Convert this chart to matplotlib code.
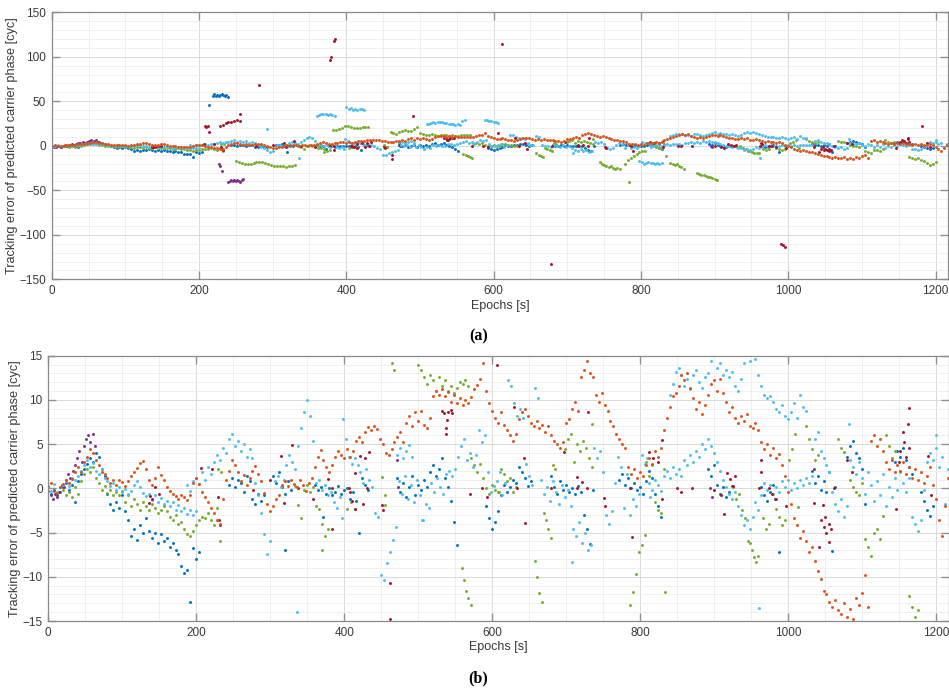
import numpy as np
import matplotlib
matplotlib.use("Agg")
import matplotlib.pyplot as plt
from matplotlib.ticker import MultipleLocator

plt.rcParams["font.family"] = ["Liberation Sans", "DejaVu Sans"]

# matlab default colour order
c_blue = "#0072BD"
c_orange = "#D95319"
c_purple = "#7E2F8E"
c_green = "#77AC30"
c_lblue = "#4DBEEE"
c_dred = "#A2142F"

# tracks: (first epoch [s], step [s], tracking error values [cyc])
orange_tracks = [
    (0, 4, [0.3, 0.6, -0.3, -0.5, 0.2, 0.5, 0.9, 0.6, 1.1, 1.8,
            2.4, 1.9, 3.0, 3.6, 4.4, 4.0, 3.2, 2.6, 1.9, 1.6,
            1.2, 0.6, 1.0, 0.4, 0.9, 0.7, 0.3, 0.8, 1.4, 1.9,
            2.3, 2.9, 3.1, 2.2, 1.0, 0.4, 1.2, 2.4, 1.5, 0.9,
            0.2, -0.3, -0.6, -0.9, -1.2, -0.8, -1.0, -1.3, -0.7, 0.6,
            1.2, 0.5, -0.4, -1.0, -1.6, -2.2, -2.8, -3.6, -4.0, -1.2,
            1.0, 2.0, 3.2, 2.6, 1.8, 0.8, 1.5, 0.4, 1.2, 2.0,
            2.5, 1.6, 0.8, -0.5, -1.8, -2.6, -2.0, -1.2, -0.8, 0.4,
            0.8, 0.3, 1.0, 0.5, 0.2, 0.9, 0.4, -0.3, 0.6, 1.2,
            2.4, 3.6, 4.3, 3.2, 2.4, 1.9, 2.6, 3.5, 4.2, 3.8,
            3.4, 4.5, 3.6, 4.2, 5.4, 5.8, 5.2, 6.4, 6.9, 6.6,
            7.0, 6.7, 5.6, 5.0, 4.0, 3.8, 4.4, 5.2, 5.8, 6.4,
            5.2, 7.4, 8.2, 7.0, 8.6, 7.6, 8.8, 7.2, 6.8, 8.0,
            10.4, 11.0, 10.6, 11.2, 10.4, 10.9, 9.8, 10.5, 9.6, 10.2,
            9.4, 10.0, 9.6, 10.3, 11.2, 11.7, 12.4, 14.2, 11.0, 9.6,
            8.8, 8.0, 7.4, 8.6, 7.2, 6.6, 6.0, 5.4, 6.2, 7.8,
            8.6, 9.0, 8.2, 7.4, 7.0, 7.6, 6.8, 7.2, 6.4, 7.0,
            6.0, 5.4, 5.0, 4.6, 5.2, 7.4, 7.8, 9.0, 9.8, 8.8,
            12.6, 13.4, 14.4, 13.0, 12.6, 10.6, 9.8, 10.8, 9.4, 8.8,
            7.6, 7.0, 6.2, 5.6, 5.0, 4.6, 2.4, 1.6, 2.2, 1.2,
            1.8, 1.4, 2.6, 3.4, 2.8, 4.2, 3.6, 4.6, 6.6, 8.0,
            9.2, 10.4, 10.8, 11.6, 12.8, 12.2, 13.0, 11.4, 10.2, 9.0,
            9.8, 8.4, 9.4, 10.6, 11.8, 12.2, 11.0, 12.4, 10.8, 9.8,
            8.6, 9.2, 8.0, 7.4, 8.2, 7.6, 8.4, 7.0, 6.8, 7.4,
            6.6, 5.2, 4.4, 5.0, 3.8, 4.6, 3.4, 3.9, 2.6, 1.4,
            -0.4, -1.8, -3.4, -4.2, -5.6, -4.8, -6.0, -7.2, -6.6, -8.2,
            -9.4, -10.2, -11.6, -12.0, -12.8, -13.4, -12.6, -13.8, -14.2, -13.0,
            -14.6, -13.6, -14.8, -12.4, -13.2, -11.8, -9.8, -13.4]),
    (1112, 4, [5.4, 6.0, 4.8, 5.6, 4.2, 3.0, 2.2, 3.2, 1.8, 2.6,
               2.0, 3.0, 1.6, 2.4, 1.2, 2.2, 1.0, 1.8, 0.6, 1.4,
               2.4, 0.4, -1.2, -3.6, -5.4, -2.0, 1.2]),
]
orange_x = []
orange_y = []

lblue_tracks = [
    (0, 4, [0.2, -0.3, 0.5, -0.4, 0.1, 0.4, 0.8, 0.3, 1.2, 0.9,
            1.4, 2.0, 2.6, 3.2, 2.4, 2.9, 2.0, 1.6, 2.2, 1.2,
            0.8, 0.3, 0.6, -0.2, 0.2, -0.4, -0.1, -0.6, -0.3, 0.4,
            0.8, 0.2, -0.5, -0.9, -0.6, -1.3, -0.8, -1.5, -1.1, -1.8,
            -1.4, -2.0, -1.6, -2.4, -1.9, -2.6, -2.2, -2.9, -2.4, -3.0, -2.6]),
    (188, 4, [0.4, -0.3, 0.8, 1.2, 0.5, 1.8, 1.0, 2.4, 1.6, 3.0,
              3.8, 3.2, 4.6, 4.0, 5.6, 6.2, 4.8, 5.4, 4.2, 5.0,
              3.6, 4.4, 3.4, 0.6, -0.8, -2.8, -5.2, -7.4, -6.0]),
    (306, 4, [0.8, 1.4, 0.2, 1.0, 2.6, 3.8, 3.0, 2.2, 4.8, 6.8,
              8.6, 10.0, 8.2, 5.4, 0.6, 1.0, -0.2, 0.4, -0.8, -0.4,
              -1.6, -2.2, -1.0, 7.8, 5.6, 3.6, 2.8]),
    (414, 4, [3.4, 2.6, 1.8, 0.6, 2.2, 1.0, 0.2, -2.8, -3.2, -9.8,
              -10.4, -8.4, -7.2, -5.8, -4.4, 0.8, -0.6, 1.4, -1.2, 0.4,
              -1.6, 1.0, -0.8, -3.6, -1.8, -2.2, 0.6, -0.4, 1.2, 0.2,
              -0.6, 1.6, 2.0, 1.4, 2.2, 3.6, 4.8, 5.6, 3.2, 4.0,
              2.4, 3.8, 6.6, 5.2, 6.0, 1.8, -0.4, 0.3, 0.8]),
    (472, 4, [3.8, 4.6, 3.4, 4.2, 4.9, 3.6]),
    (610, 4, [1.8, -0.8, 0.6, 12.2, 11.6, 9.6, 8.2, 9.0, 8.0, 2.8,
              1.4, 0.4, 11.4, 10.2, 1.0, -0.6, 0.2, -1.4, 0.8, -0.4,
              -1.8, 0.4, -1.0, -0.2, -2.0, -4.6, -5.4, -3.8, -6.2, -5.0,
              -7.0, -6.4, 4.6, 3.4, 4.2, 1.8, -3.0, -4.0, -2.6, 0.6,
              3.6, 2.4, -2.2, 1.6, -3.0, -1.2, -2.0, -0.6, 3.8, 2.8,
              3.4, -1.0]),
    (840, 4, [10.6, 11.8, 13.2, 13.6, 12.8, 11.6, 12.4, 11.2, 12.8, 13.4,
              12.0, 11.4, 12.6, 13.0, 14.4, 15.4, 13.6, 14.2, 12.8, 13.4,
              12.6, 13.2, 11.6, 11.0, 12.4, 14.2, 15.6, 14.4, 15.2, 14.6,
              12.8, 11.6, 10.6, 10.2, 10.4, 9.8, 9.0, 8.6, 9.4, 8.2,
              7.8, 8.6, 9.6, 8.0, 10.6, 9.2, 8.8]),
    (812, 4, [0.6, -0.2, 1.0, 0.4, -0.3, 1.4, 2.0, 1.2, 2.4, 1.6,
              2.2, 1.4, 3.2, 2.6, 3.8, 3.0, 4.2, 3.6, 5.0, 4.4,
              5.6, 4.8, 4.0, 3.0, 2.0, 1.0, 0.2, -0.6, -1.2, -0.4,
              -2.0, -3.0, -4.2, -3.6, -4.6, -3.2, -1.6, -2.4, -0.8, 0.6,
              -0.2, 0.4, -0.6, 0.2, -0.4, 0.8, 0.2, 1.0, -0.2, 0.6,
              0.0, 0.9, 0.4, 1.2, 0.6, 1.4, 5.6, 6.4, 4.2, 3.4,
              2.6, 1.8, -0.4, -1.8, -2.6, -1.2, -3.2, -2.0, 3.2, 2.4,
              1.6, 3.0, 1.2, -0.6, 1.8, 0.4, -1.4, 0.8, -0.8, 1.6,
              -2.0, 0.2, -1.0, 1.2, -0.2, 1.8, 0.6, -0.4, 1.2, -3.2,
              -4.0, -4.8, -3.6, -0.2, 3.0, 4.0, 3.2, 4.6, 2.4, 3.6,
              -1.8, 2.2]),
    (360, 3, [33.5, 34.8, 35.6, 36.0, 35.2, 34.6, 35.4, 34.2, 33.8]),
    (400, 3, [43.2, 41.8, 42.4, 40.6, 41.2, 40.2, 40.8, 41.6, 40.4]),
    (509, 3, [24.2, 25.0, 25.6, 26.2, 25.8, 26.6, 27.0, 26.4, 25.8, 25.2,
              24.6, 25.0, 24.4, 23.6, 24.0, 23.2]),
    (588, 3, [29.4, 28.8, 28.2, 27.6, 27.0, 26.2, 25.4]),
    (798, 3, [-16.8, -18.6, -20.4, -19.2, -18.0, -18.8, -19.6, -20.8, -19.4, -20.6, -19.2]),
]
lblue_x = [292, 336, 557, 561, 397, 505, 708, 961, 1083, 1200]
lblue_y = [18.5, -14.0, 28.0, 28.6, -3.4, -3.6, -8.3, -13.5, 7.3, 6.0]

blue_tracks = [
    (0, 4, [-0.3, -0.6, -0.2, -0.8, -0.4, 0.2, 0.6, -0.2, 0.4, -1.6,
            0.8, 1.6, 2.2, 2.8, 3.4, 3.0, 4.0, 3.6, 2.2, 1.4,
            -0.6, -1.8, -2.4, -1.6, -2.2, -0.8, -2.6, -3.6, -5.4, -4.6,
            -5.8, -4.2, -5.0, -3.4, -4.8, -5.6, -5.0, -6.2, -5.2, -6.0,
            -5.6, -6.6, -6.2, -7.0, -7.4, -8.8, -9.6, -9.2, -12.8, -6.8, -8.0, -7.2]),
    (219, 2, [56.4, 57.8, 55.8, 57.2, 56.0, 57.6, 58.2, 56.6, 55.4, 56.8, 54.6]),
    (244, 4, [0.4, 1.2, 0.2, 1.0, 0.6, -0.4, 1.4, 0.8, -1.2, -1.8, -0.6, -1.4, -0.8]),
    (304, 4, [1.4, 0.6, 1.8, 0.2, -0.6, 0.8, -0.2]),
    (360, 4, [0.4, -0.2, 0.2, -3.2, -0.6, 0.0, -0.8, -0.4, 0.3, -0.6,
              -0.2, 0.0, -1.2, -0.4, -1.4, -5.1, 1.2, 0.4, -0.2]),
    (472, 4, [1.2, -0.4, 0.6, -1.0, 0.2, 1.4, -0.8, 0.4, -0.2, 1.0,
              0.2, 1.8, 2.6, 1.4, 2.2, 3.4, 1.2, 0.2, -1.4, -3.8, -6.4]),
    (592, 4, [-2.0, -3.4, -4.6, -3.8, -2.6, -0.8, 0.4, -0.4, 0.2, 1.0,
              0.6, 2.4, 1.8, 1.2, 0.3, 0.8]),
    (680, 4, [1.4, 0.2, -0.6, 0.8, -0.2, 0.4, -0.4, 0.0, -0.6, 0.3,
              -0.4, -3.0, -4.6, -6.3, -0.2]),
    (772, 4, [1.0, 1.6, 0.4, 1.2, 0.0, 0.6, -0.2, 0.2, -0.6, 0.8,
              2.0, 1.2, -0.6, -2.0, -3.2]),
    (892, 4, [2.2, 1.4, 2.6, 0.4, -0.6, 0.2, -1.0, -0.4, 0.3]),
    (964, 4, [0.2, -0.8, -1.4, -0.4, 0.4, -1.2, -7.2]),
    (1032, 4, [2.0, 0.6, 1.4, -0.2, 0.8, -0.4, 1.8, -7.1, 0.2]),
    (1080, 4, [3.6, 4.8, 5.4, 4.0, 3.4, 2.2, -1.8]),
    (1144, 4, [3.0, 4.2, 3.6, 4.6, 3.2, 2.4, 1.6]),
    (1180, 4, [-0.4, -1.4, -2.4, -3.1, -2.0]),
]
blue_x = [214, 320]
blue_y = [45.5, -7.0]

green_tracks = [
    (20, 4, [-0.2, -0.8, -0.4, -1.0, 0.2, -0.6, 0.8, 1.6, 2.2, 1.8,
             2.4, 1.2, 0.6, -0.2, 0.3, -0.5, -0.2, -0.8, -0.4, -0.7,
             -0.3, -1.6, -0.8, -2.0, -1.2, -1.8, -2.4, -1.6, -2.0, -2.5,
             -1.8, -2.2, -2.8, -2.4, -2.0, -2.6, -3.2, -3.6, -3.0, -4.0,
             -3.8, -4.6, -5.2, -5.4, -4.8, -4.2, -3.6, -3.2, -3.4, -2.8,
             -3.6, -4.2, -2.2, -5.9]),
    (250, 4, [-16.8, -18.2, -19.6, -20.4, -21.0, -20.2, -19.4, -18.6, -18.0, -18.4,
              -19.0, -20.2, -21.4, -22.6, -23.2, -22.4, -22.8, -23.4, -22.2, -22.8, -21.6]),
    (334, 4, [0.3, -1.9, -3.4, -0.2, 0.4, -0.4, 0.2, -2.0, -2.3, -4.0, -5.4, -4.6]),
    (382, 4, [17.2, 17.8, 18.6, 20.4, 22.0, 22.6, 21.4, 20.2, 19.8, 20.4, 20.8, 21.2, 21.6]),
    (460, 4, [15.2, 14.2, 13.4, 15.6, 16.8, 18.2, 17.0, 16.2, 18.6, 20.6]),
    (500, 4, [14.0, 13.4, 12.6, 11.8, 12.8, 12.2, 11.0, 12.6, 11.6, 12.2,
              11.0, 11.6, 10.8, 11.4, 12.0, 11.8, 12.2, 11.6]),
    (559, 3, [-9.0, -10.4, -11.6, -12.4, -13.2]),
    (572, 4, [3.4, 2.6, 1.8, 2.8, 1.2, 0.0, -0.6, 0.4, -0.2, -0.4,
              2.2, 1.6, 0.8, 1.2, -0.4, 0.2]),
    (658, 3, [-8.2, -10.0, -11.8, -12.9, -2.8, -3.6, -4.6, -5.6, 2.6, 2.2]),
    (699, 4, [4.5, 5.6, 6.2, 3.0, 5.0, 4.2, 5.4, 4.6, 3.4, 2.4]),
    (744, 3, [-18.6, -20.2, -21.4, -22.8, -24.0, -23.2, -25.0, -25.8, -24.6, -26.4]),
    (778, 4, [-20.0, -16.0, -13.2, -11.7, -9.7, -7.2, -6.4, -5.3]),
    (808, 4, [3.0, 1.4, 2.6, -1.6, -2.4, -2.8, 2.2]),
    (840, 3, [-18.8, -20.2, -21.6, -20.8, -22.6, -24.0, -26.2]),
    (876, 3, [-30.0, -31.2, -32.4, -33.0, -33.8, -34.6, -35.2, -36.4, -37.6, -38.8]),
    (926, 4, [0.2, -1.2, -0.6, -2.4, -3.4, -5.9]),
    (948, 3, [-6.2, -7.0, -7.8, -8.3, -7.6]),
    (966, 4, [-3.4, -4.6, -4.0]),
    (984, 4, [-2.3, -3.2, -4.2, -3.6]),
    (1002, 4, [3.2, 4.4, 6.2, -2.1]),
    (1024, 4, [7.1, 5.6, 4.4, 3.2, 3.8]),
    (1068, 4, [5.6, 4.6, 4.1]),
    (1084, 4, [1.0, 0.2, -0.4, -0.8, 0.6]),
    (1104, 4, [-5.7, -6.6, -7.6, -5.0, -4.6, -5.7, -3.1]),
    (1132, 4, [6.0, 4.8, 3.4, 4.2]),
    (1164, 4, [-12.2, -13.4, -14.6, -13.8, -15.4, -16.8, -19.4, -21.8, -20.6, -18.4]),
]
green_x = [230, 234, 370, 404, 409, 415, 451, 455, 455, 609, 735, 784, 834]
green_y = [2.2, 1.8, -7.0, -2.3, -1.6, -2.3, 1.3, -0.8, -1.9, -0.4, 7.3, -40.5, -11.7]

purple_tracks = [
    (0, 3, [0.2, -0.8, -1.2, -0.6, -1.0, -0.4, 0.4, 0.2, 1.0, 1.6,
            1.2, 2.0, 2.6, 3.4, 4.2, 3.0, 4.8, 5.6, 6.0, 5.2, 6.2, 4.8]),
    (240, 2, [-40.6, -39.2, -38.8, -39.6, -38.4, -39.0, -38.2, -39.4, -40.2, -38.8, -37.6]),
]
purple_x = [227, 229, 231, 471, 473, 895, 897, 1035]
purple_y = [-20.8, -22.4, -28.7, 3.2, 0.2, 0.0, -1.0, 2.2]

dred_tracks = []
dred_x = [136, 138, 140, 144, 149, 207, 221, 230, 231, 232, 277, 300, 315, 318, 329, 338, 358,
          378, 383, 383, 406, 408, 411, 414, 415, 421, 426, 428, 431, 433, 451, 453, 462, 462,
          532, 535, 537, 538, 539, 541, 544, 546, 570, 586, 593, 606,
          629, 634, 643, 645, 679, 697, 715, 715, 722, 728, 730, 751, 753, 787, 789,
          812, 818, 824, 830, 830, 850, 855, 870, 900, 909, 913, 918, 922, 926, 929,
          961, 963, 964, 974, 978, 983, 997,
          1035, 1042, 1044, 1047, 1048, 1050, 1052, 1055, 1056, 1058, 1062, 1080, 1087,
          1146, 1150, 1152, 1155, 1157, 1160, 1162, 1163, 1164, 1189, 1193,
          208, 210, 212, 213, 228, 232, 236, 240, 244, 248, 252, 255, 256, 281,
          378, 379, 383, 385, 491, 612, 678, 990, 993, 996, 1182]
dred_y = [-1.7, -0.9, -1.2, 0.2, -0.6, 2.3, 2.2, -1.0, -3.6, -4.2, -0.2, 0.9, 3.7, -1.7, 4.9, 0.0, -1.2,
          1.1, 0.0, -4.6, 0.0, -0.4, -1.4, -2.3, 1.7, 3.7, -1.8, 3.4, 0.0, 4.1, -1.9, -2.5, -10.7, -14.8,
          8.8, 8.5, 6.8, 6.2, 7.7, 8.6, 8.9, 8.5, -0.6, 0.0, -1.0, 14.0,
          9.2, 0.0, 3.4, -3.9, 0.0, 4.1, 1.3, 0.0, 0.7, 0.0, 8.6, -1.1, -2.0, 0.0, -5.5,
          4.1, 3.4, 3.0, 5.5, -1.2, 0.0, -0.4, 0.0, -0.2, -0.8, -2.9, 1.7, 1.1, 0.3, 1.4,
          0.0, 3.2, 1.8, 0.0, -0.6, -1.2, -2.0,
          -1.7, -6.6, -3.6, -1.9, -4.4, -3.2, -5.1, -4.0, -6.1, -4.6, 0.0, 3.2, 1.8,
          -2.3, 3.0, 4.2, 6.4, 5.2, 3.6, 7.3, 9.1, 4.6, 3.7, -0.8,
          21.8, 21.0, 22.0, 15.1, 22.0, 23.0, 25.6, 26.4, 27.2, 28.2, 29.0, 27.4, 35.8, 68.7,
          96.4, 99.4, 117.7, 119.7, 33.8, 114.7, -132.8, -110.2, -111.8, -113.6, 21.9]


def expand(tracks, px, py):
    xs, ys = list(px), list(py)
    for start, step, vals in tracks:
        xs.extend(start + step * np.arange(len(vals)))
        ys.extend(vals)
    return np.array(xs, dtype=float), np.array(ys, dtype=float)


series = [
    (c_blue, expand(blue_tracks, blue_x, blue_y)),
    (c_purple, expand(purple_tracks, purple_x, purple_y)),
    (c_green, expand(green_tracks, green_x, green_y)),
    (c_lblue, expand(lblue_tracks, lblue_x, lblue_y)),
    (c_dred, expand(dred_tracks, dred_x, dred_y)),
    (c_orange, expand(orange_tracks, orange_x, orange_y)),
]

fig = plt.figure(figsize=(9.49, 6.9), dpi=100)
ax1 = fig.add_axes([0.0545, 0.5952, 0.9445, 0.3870])
ax2 = fig.add_axes([0.0509, 0.1000, 0.9486, 0.3845])

for ax, lim, ymaj, ymin, ms in [(ax1, 150, 50, 10, 4.5), (ax2, 15, 5, 1, 4.5)]:
    for col, (xs, ys) in series:
        ax.scatter(xs, ys, s=ms, c=col, marker="o", linewidths=0)
    ax.set_xlim(0, 1217)
    ax.set_ylim(-lim, lim)
    ax.xaxis.set_major_locator(MultipleLocator(200))
    ax.xaxis.set_minor_locator(MultipleLocator(50))
    ax.yaxis.set_major_locator(MultipleLocator(ymaj))
    ax.yaxis.set_minor_locator(MultipleLocator(ymin))
    ax.set_axisbelow(True)
    ax.grid(which="major", color="#dadada", lw=0.7)
    ax.grid(which="minor", color="#ededed", lw=0.6)
    ax.tick_params(which="major", direction="in", length=6, width=1.0, color="#909090",
                   top=True, right=True, labelsize=8.5, labelcolor="#3a3a3a", pad=4)
    ax.tick_params(which="minor", length=0, top=True, right=True)
    for sp in ax.spines.values():
        sp.set_color("#8a8a8a")
        sp.set_linewidth(0.9)
    ax.set_xlabel("Epochs [s]", fontsize=9, color="#3a3a3a", labelpad=2)
    ax.set_ylabel("Tracking error of predicted carrier phase [cyc]", fontsize=9.2,
                  color="#3a3a3a", labelpad=1)

fig.text(0.504, 0.512, "(a)", ha="center", va="center", fontsize=11.5,
         fontweight="bold", family="Liberation Serif")
fig.text(0.504, 0.017, "(b)", ha="center", va="center", fontsize=11.5,
         fontweight="bold", family="Liberation Serif")

fig.savefig("out.png", dpi=100)
